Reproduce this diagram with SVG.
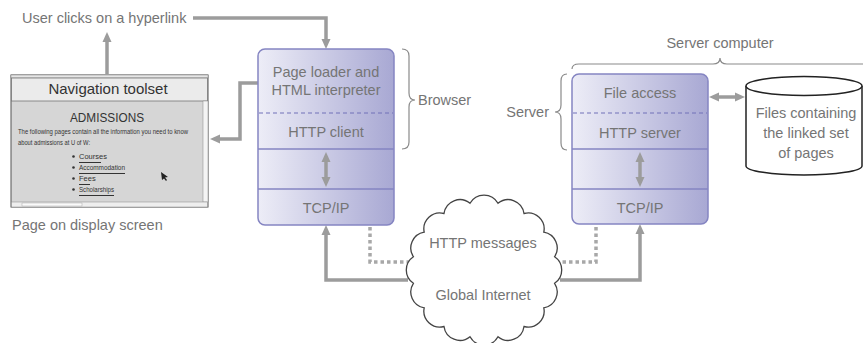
<svg xmlns="http://www.w3.org/2000/svg" width="863" height="343" viewBox="0 0 863 343">
<defs>
<linearGradient id="boxg" x1="0" y1="0" x2="1" y2="0">
<stop offset="0" stop-color="#ededf7"/>
<stop offset="1" stop-color="#a8a8d3"/>
</linearGradient>
<marker id="ah" viewBox="0 0 10 10" markerWidth="10" markerHeight="10" refX="1" refY="5" orient="auto-start-reverse" markerUnits="userSpaceOnUse">
<path d="M0,0.5 L10,5 L0,9.5 z" fill="#9c9c9c"/>
</marker>
<marker id="ahd" viewBox="0 0 10 10" markerWidth="9" markerHeight="9" refX="1" refY="5" orient="auto-start-reverse" markerUnits="userSpaceOnUse">
<path d="M0,0.5 L10,5 L0,9.5 z" fill="#a8a8a8"/>
</marker>
</defs>
<style>
text{font-family:"Liberation Sans","DejaVu Sans",sans-serif;fill:#757575;}
.t{font-size:14.5px;}
.c{text-anchor:middle;}
.box{fill:url(#boxg);stroke:#8585c2;stroke-width:1.5;}
.sep{stroke:#8585c2;stroke-width:1.5;}
.dsh{stroke:#7070b8;stroke-width:1;stroke-dasharray:4,3;}
.con{fill:none;stroke:#9c9c9c;stroke-width:3.5;}
.dot{fill:none;stroke:#a8a8a8;stroke-width:3.5;stroke-dasharray:3.5,3;}
.brace{fill:none;stroke:#8a8a8a;stroke-width:1.2;}
.sm{font-family:"Liberation Sans",sans-serif;fill:#333;}
</style>
<rect width="863" height="343" fill="#fff"/>

<g id="connectors">
<path class="con" d="M193,18 H326 V40" marker-end="url(#ah)"/>
<path class="con" d="M107,74 V41" marker-end="url(#ah)"/>
<path class="con" d="M258,83 H240 V139 H219" marker-end="url(#ah)"/>
<path class="con" d="M408,280 H326 V234" marker-end="url(#ah)"/>
<path class="con" d="M560,280 H640 V233" marker-end="url(#ah)"/>
<path class="dot" d="M370,162 V262 H596 V162" marker-start="url(#ahd)" marker-end="url(#ahd)"/>
</g>

<g id="screen">
<rect x="11" y="75" width="197" height="132" fill="#d6d6d6" stroke="#555" stroke-width="1"/>
<rect x="11" y="75" width="197" height="3" fill="#e6e6e6" stroke="#888" stroke-width="0.5"/>
<rect x="11.5" y="78" width="196" height="23" fill="#ebebeb" stroke="#777" stroke-width="0.8"/>
<text x="108" y="94" class="c" style="font-size:15px;fill:#333">Navigation toolset</text>
<rect x="203" y="101" width="5" height="101" fill="#f4f4f4" stroke="#888" stroke-width="0.5"/>
<rect x="11.5" y="202" width="196" height="5" fill="#eee" stroke="#888" stroke-width="0.5"/>
<rect x="22" y="203" width="60" height="3" fill="#fafafa" stroke="#999" stroke-width="0.4"/>
<text x="107" y="122" class="c sm" style="font-size:13px" textLength="74" lengthAdjust="spacingAndGlyphs">ADMISSIONS</text>
<text x="18" y="134" class="sm" style="font-size:7px" textLength="170" lengthAdjust="spacingAndGlyphs">The following pages contain all the information you need to know</text>
<text x="18" y="145" class="sm" style="font-size:7px" textLength="72" lengthAdjust="spacingAndGlyphs">about admissions at U of W:</text>
<g fill="#333">
<circle cx="73.5" cy="156.5" r="1.3"/>
<circle cx="73.5" cy="167.5" r="1.3"/>
<circle cx="73.5" cy="178.5" r="1.3"/>
<circle cx="73.5" cy="189.5" r="1.3"/>
</g>
<text x="79" y="159" class="sm" style="font-size:7.5px">Courses</text>
<text x="79" y="170" class="sm" style="font-size:7.5px" textLength="46" lengthAdjust="spacingAndGlyphs">Accommodation</text>
<text x="79" y="181" class="sm" style="font-size:7.5px">Fees</text>
<text x="79" y="192" class="sm" style="font-size:7.5px" textLength="35" lengthAdjust="spacingAndGlyphs">Scholarships</text>
<g stroke="#333" stroke-width="1">
<line x1="79" y1="162.5" x2="101" y2="162.5"/>
<line x1="79" y1="173.5" x2="125" y2="173.5"/>
<line x1="79" y1="184.5" x2="90" y2="184.5"/>
<line x1="79" y1="195.5" x2="114" y2="195.5"/>
</g>
<path d="M161,172 L168,177 L165,177.5 L167,180 L166,181 L164,178.5 L162,180 z" fill="#222"/>
</g>

<g id="label-user-clicks">
<text x="22" y="23" class="t">User clicks on a hyperlink</text>
</g>
<g id="label-page-on-display">
<text x="12" y="230" class="t">Page on display screen</text>
</g>

<g id="browser">
<rect class="box" x="258" y="49" width="136" height="176" rx="7"/>
<line class="dsh" x1="259" y1="113" x2="393" y2="113"/>
<line class="sep" x1="258" y1="149" x2="394" y2="149"/>
<line class="sep" x1="258" y1="189" x2="394" y2="189"/>
<text x="326" y="77" class="t c">Page loader and</text>
<text x="326" y="95" class="t c">HTML interpreter</text>
<text x="326" y="137" class="t c">HTTP client</text>
<text x="326" y="213" class="t c">TCP/IP</text>
<path class="con" d="M326,161 V178" marker-start="url(#ah)" marker-end="url(#ah)"/>
</g>

<g id="browser-brace">
<path class="brace" d="M402,49 Q409,49 409,56 L409,93 Q409,100 415,100 Q409,100 409,107 L409,142 Q409,149 402,149"/>
<text x="418" y="105" class="t">Browser</text>
</g>

<g id="server">
<rect class="box" x="572" y="74" width="136" height="150" rx="7"/>
<line class="dsh" x1="573" y1="113" x2="707" y2="113"/>
<line class="sep" x1="572" y1="149" x2="708" y2="149"/>
<line class="sep" x1="572" y1="189" x2="708" y2="189"/>
<text x="640" y="98" class="t c">File access</text>
<text x="640" y="138" class="t c">HTTP server</text>
<text x="640" y="213" class="t c">TCP/IP</text>
<path class="con" d="M640,161 V178" marker-start="url(#ah)" marker-end="url(#ah)"/>
</g>

<g id="server-brace">
<path class="brace" d="M567,74 Q561,74 561,81 L561,105 Q561,112 555,112 Q561,112 561,119 L561,143 Q561,150 567,150"/>
<text x="549" y="117" class="t" text-anchor="end">Server</text>
</g>

<g id="server-computer-brace">
<path class="brace" d="M572,69 Q572,64 579,64 L713,64 Q720,64 720,58 Q720,64 727,64 L870,64"/>
<text x="720" y="48" class="t c">Server computer</text>
</g>

<g id="files">
<path d="M746,86 V166 A58,9 0 0 0 862,166 V86" fill="#fff" stroke="#222" stroke-width="1.5"/>
<ellipse cx="804" cy="86" rx="58" ry="9.5" fill="#fff" stroke="#222" stroke-width="1.5"/>
<text x="806" y="118" class="t c">Files containing</text>
<text x="806" y="138" class="t c">the linked set</text>
<text x="806" y="158" class="t c">of pages</text>
</g>

<g id="file-link">
<path class="con" d="M718,97 H736" marker-start="url(#ah)" marker-end="url(#ah)"/>
</g>

<g id="internet">
<path d="M554.6,283.3 A16,16 0 0 1 543.8,307.8 A16,16 0 0 1 524,326.5 A16,16 0 0 1 498,336.7 A16,16 0 0 1 470,336.7 A16,16 0 0 1 444,326.5 A16,16 0 0 1 424.2,307.8 A16,16 0 0 1 413.4,283.3 A16,16 0 0 1 413.4,256.7 A16,16 0 0 1 424.2,232.2 A16,16 0 0 1 444,213.5 A16,16 0 0 1 470,203.3 A16,16 0 0 1 498,203.3 A16,16 0 0 1 524,213.5 A16,16 0 0 1 543.8,232.2 A16,16 0 0 1 554.6,256.7 A16,16 0 0 1 554.6,283.3 z" fill="#fff" stroke="#444" stroke-width="1.3"/>
<text x="483" y="248" class="t c">HTTP messages</text>
<text x="483" y="300" class="t c">Global Internet</text>
</g>
</svg>
